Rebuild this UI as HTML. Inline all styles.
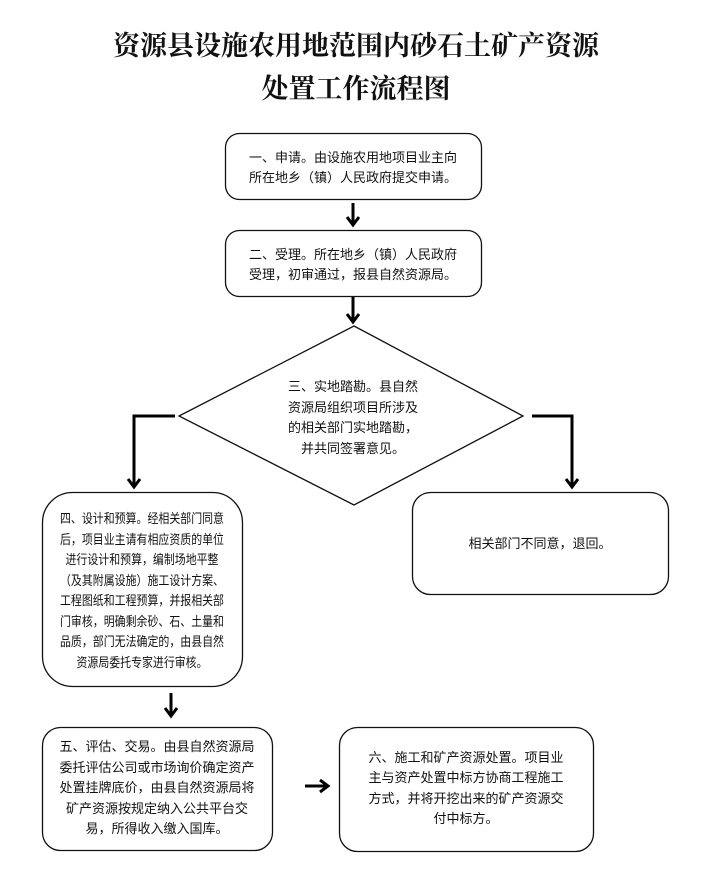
<!DOCTYPE html>
<html><head><meta charset="utf-8"><style>
html,body{margin:0;padding:0;background:#fff}
svg{display:block}
.t{font-family:"Liberation Sans","Noto Sans CJK SC",sans-serif;font-size:13px;fill:#111;text-anchor:middle}
.h{font-family:"Liberation Serif","Noto Serif CJK SC",serif;font-size:27px;font-weight:bold;fill:#111;text-anchor:middle}
</style></head><body>
<svg width="717" height="881" viewBox="0 0 717 881" xmlns="http://www.w3.org/2000/svg">
<text class="h" x="356" y="55">资源县设施农用地范围内砂石土矿产资源</text>
<text class="h" x="356" y="98">处置工作流程图</text>
<g fill="none" stroke="#111" stroke-width="1.3">
<rect x="225.5" y="133.5" width="256" height="66" rx="14"/>
<rect x="225.5" y="230.5" width="256" height="66" rx="14"/>
<polygon points="354,326 523,416 354,505 179,416"/>
<rect x="42.5" y="492.5" width="200" height="194" rx="30"/>
<rect x="412.5" y="492.5" width="256" height="102" rx="18"/>
<rect x="42.5" y="727.5" width="230" height="123" rx="18"/>
<rect x="339.5" y="727.5" width="254" height="124" rx="18"/>
</g>
<g fill="none" stroke="#000" stroke-width="3">
<line x1="353" y1="203" x2="353" y2="225"/><polyline points="347,217 353,225 359,217"/>
<line x1="353" y1="297" x2="353" y2="322"/><polyline points="347,314 353,322 359,314"/>
<polyline points="175,416 134,416 134,487"/><polyline points="128,479 134,487 140,479"/>
<polyline points="532,416 572,416 572,487"/><polyline points="566,479 572,487 578,479"/>
<line x1="171" y1="693" x2="171" y2="716"/><polyline points="165,708 171,716 177,708"/>
<line x1="305" y1="786" x2="328" y2="786"/><polyline points="320,780 328,786 320,792"/>
</g>
<text class="t" x="353" y="162">一、申请。由设施农用地项目业主向</text>
<text class="t" x="353" y="182">所在地乡（镇）人民政府提交申请。</text>
<text class="t" x="353" y="259">二、受理。所在地乡（镇）人民政府</text>
<text class="t" x="353" y="279">受理，初审通过，报县自然资源局。</text>
<text class="t" x="353" y="391">三、实地踏勘。县自然</text>
<text class="t" x="353" y="412">资源局组织项目所涉及</text>
<text class="t" x="353" y="432">的相关部门实地踏勘，</text>
<text class="t" x="353" y="453">并共同签署意见。</text>
<text class="t" x="142" y="523" textLength="164" lengthAdjust="spacingAndGlyphs">四、设计和预算。经相关部门同意</text>
<text class="t" x="142" y="544" textLength="164" lengthAdjust="spacingAndGlyphs">后，项目业主请有相应资质的单位</text>
<text class="t" x="142" y="564" textLength="153" lengthAdjust="spacingAndGlyphs">进行设计和预算，编制场地平整</text>
<text class="t" x="142" y="585" textLength="164" lengthAdjust="spacingAndGlyphs">（及其附属设施）施工设计方案、</text>
<text class="t" x="142" y="605" textLength="164" lengthAdjust="spacingAndGlyphs">工程图纸和工程预算，并报相关部</text>
<text class="t" x="142" y="626" textLength="164" lengthAdjust="spacingAndGlyphs">门审核，明确剩余砂、石、土量和</text>
<text class="t" x="142" y="646" textLength="164" lengthAdjust="spacingAndGlyphs">品质，部门无法确定的，由县自然</text>
<text class="t" x="142" y="667" textLength="131" lengthAdjust="spacingAndGlyphs">资源局委托专家进行审核。</text>
<text class="t" x="540" y="548">相关部门不同意，退回。</text>
<text class="t" x="157" y="751">五、评估、交易。由县自然资源局</text>
<text class="t" x="157" y="772">委托评估公司或市场询价确定资产</text>
<text class="t" x="157" y="792">处置挂牌底价，由县自然资源局将</text>
<text class="t" x="157" y="813">矿产资源按规定纳入公共平台交</text>
<text class="t" x="157" y="833">易，所得收入缴入国库。</text>
<text class="t" x="466" y="762">六、施工和矿产资源处置。项目业</text>
<text class="t" x="466" y="782">主与资产处置中标方协商工程施工</text>
<text class="t" x="466" y="803">方式，并将开挖出来的矿产资源交</text>
<text class="t" x="466" y="823">付中标方。</text>
</svg>
</body></html>
